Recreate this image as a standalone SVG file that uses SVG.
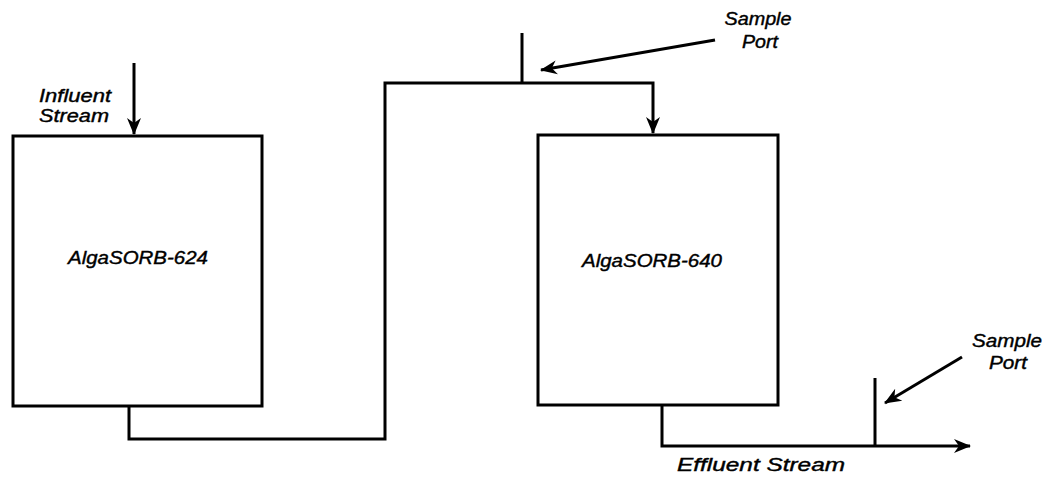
<svg xmlns="http://www.w3.org/2000/svg" width="1048" height="479" viewBox="0 0 1048 479">
<style>
.box{fill:#fff;stroke:#000;stroke-width:3}
.ln{fill:none;stroke:#000;stroke-width:3;stroke-linejoin:miter}
.t{font-family:"Liberation Sans",Arial,sans-serif;font-style:italic;font-size:18px;fill:#000;stroke:#000;stroke-width:0.4}
</style>
<defs>
<marker id="ah" markerUnits="userSpaceOnUse" markerWidth="18" markerHeight="16" viewBox="0 0 18 16" refX="16" refY="8" orient="auto">
<path d="M0,1 L17,8 L0,15 L5,8 Z" fill="#000"/>
</marker>
</defs>
<rect width="1048" height="479" fill="#fff"/>
<g id="node-624">
<rect class="box" x="13" y="136" width="249" height="270"/>
<text class="t" x="138" y="264" text-anchor="middle" textLength="140" lengthAdjust="spacingAndGlyphs">AlgaSORB-624</text>
</g>
<g id="node-640">
<rect class="box" x="538" y="135" width="240" height="270"/>
<text class="t" x="652" y="267" text-anchor="middle" textLength="140" lengthAdjust="spacingAndGlyphs">AlgaSORB-640</text>
</g>
<g id="connectors">
<path class="ln" d="M134,63 L134,134" marker-end="url(#ah)"/>
<path class="ln" d="M129,406 L129,439 L385,439 L385,83 L653,83 L653,133" marker-end="url(#ah)"/>
<path class="ln" d="M522,33 L522,83"/>
<path class="ln" d="M715,40 L541,70" marker-end="url(#ah)"/>
<path class="ln" d="M662,405 L662,446 L970,446" marker-end="url(#ah)"/>
<path class="ln" d="M875,378 L875,446"/>
<path class="ln" d="M962,357 L885,403" marker-end="url(#ah)"/>
</g>
<g id="labels">
<text class="t" x="39" y="102" textLength="72" lengthAdjust="spacingAndGlyphs">Influent</text>
<text class="t" x="39" y="122" textLength="70" lengthAdjust="spacingAndGlyphs">Stream</text>
<text class="t" x="758" y="25" text-anchor="middle" textLength="67" lengthAdjust="spacingAndGlyphs">Sample</text>
<text class="t" x="760" y="48" text-anchor="middle" textLength="36" lengthAdjust="spacingAndGlyphs">Port</text>
<text class="t" x="1007" y="347" text-anchor="middle" textLength="70" lengthAdjust="spacingAndGlyphs">Sample</text>
<text class="t" x="1008" y="369" text-anchor="middle" textLength="38" lengthAdjust="spacingAndGlyphs">Port</text>
<text class="t" x="677" y="471" textLength="168" lengthAdjust="spacingAndGlyphs">Effluent Stream</text>
</g>
</svg>
